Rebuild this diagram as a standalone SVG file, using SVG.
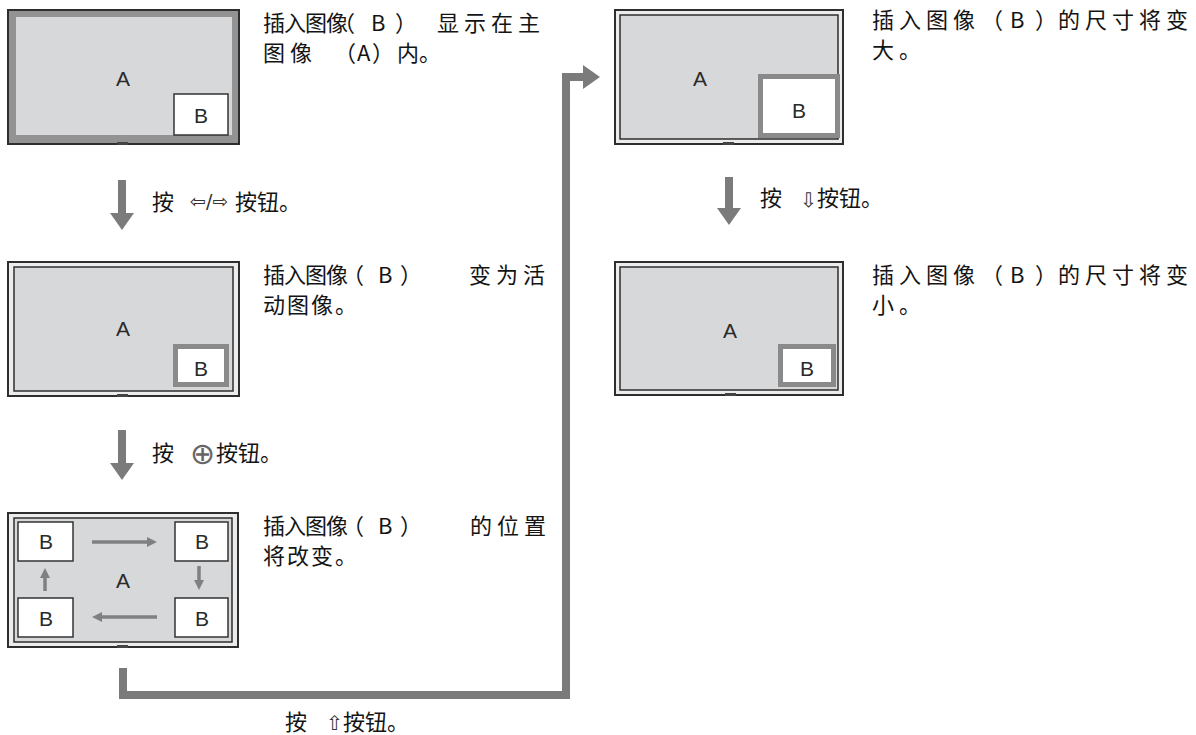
<svg xmlns="http://www.w3.org/2000/svg" width="1196" height="735" viewBox="0 0 1196 735">
<style>
.bezel{fill:#ececec;stroke:#2e2e2e;stroke-width:2}
.bezel-act{fill:#939393;stroke:#2e2e2e;stroke-width:2}
.screen{fill:#d6d8da;stroke:#2e2e2e;stroke-width:1.5}
.screen-act{fill:#d6d8da}
.stand{fill:#444}
.pip{fill:#fff;stroke:#333;stroke-width:1.5}
.pip-act{fill:#fff;stroke:#8a8a8a;stroke-width:5}
.lbl{font-family:"Liberation Sans",Arial,sans-serif;font-size:21px;fill:#2a2a2a;text-anchor:middle}
.cn{font-family:"Noto Sans CJK SC","Noto Sans CJK JP",sans-serif;font-size:22px;fill:#141414}
.sym{font-family:"DejaVu Sans",sans-serif;font-size:19px;fill:#333}
.sym2{font-family:"DejaVu Sans",sans-serif;font-size:20px;fill:#333}
.circ{font-family:"DejaVu Sans",sans-serif;font-size:30px;fill:#666}
.conn{fill:none;stroke:#7b7b7b;stroke-width:8;stroke-linejoin:miter}
.mini{fill:none;stroke:#808080;stroke-width:3.5}
</style>
<defs>
<marker id="ah" markerUnits="userSpaceOnUse" viewBox="0 0 17 24" markerWidth="17" markerHeight="24" refX="1" refY="12" orient="auto">
<path d="M0,0 L17,12 L0,24 z" fill="#7b7b7b"/>
</marker>
<marker id="ahs" markerUnits="userSpaceOnUse" viewBox="0 0 10 10" markerWidth="10" markerHeight="10" refX="6" refY="5" orient="auto">
<path d="M0,0 L10,5 L0,10 z" fill="#808080"/>
</marker>
</defs>
<rect width="1196" height="735" fill="#fff"/>

<g id="monitor1">
<rect class="bezel-act" x="8" y="10" width="231" height="134"/>
<rect class="screen-act" x="16" y="17" width="216" height="118"/>
<rect class="stand" x="117" y="142" width="11" height="3"/>
<rect class="pip" x="174" y="94" width="54" height="41"/>
<text class="lbl" x="123" y="86">A</text>
<text class="lbl" x="201" y="123">B</text>
</g>

<g id="monitor2">
<rect class="bezel" x="8" y="262" width="231" height="134"/>
<rect class="screen" x="14" y="267" width="219" height="124"/>
<rect class="stand" x="117" y="394" width="11" height="3"/>
<rect class="pip-act" x="175.5" y="346.5" width="51" height="38"/>
<text class="lbl" x="123" y="336">A</text>
<text class="lbl" x="201" y="376">B</text>
</g>

<g id="monitor3">
<rect class="bezel" x="8" y="513" width="230" height="134"/>
<rect class="screen" x="14" y="518" width="218" height="124"/>
<rect class="stand" x="117" y="645" width="11" height="3"/>
<rect class="pip" x="18" y="522" width="55" height="39"/>
<rect class="pip" x="175" y="522" width="53" height="39"/>
<rect class="pip" x="18" y="598" width="55" height="39"/>
<rect class="pip" x="175" y="598" width="53" height="39"/>
<line class="mini" x1="92" y1="542" x2="153" y2="542" marker-end="url(#ahs)"/>
<line class="mini" x1="199" y1="566" x2="199" y2="586" marker-end="url(#ahs)"/>
<line class="mini" x1="157" y1="617" x2="96" y2="617" marker-end="url(#ahs)"/>
<line class="mini" x1="45" y1="591" x2="45" y2="572" marker-end="url(#ahs)"/>
<text class="lbl" x="123" y="588">A</text>
<text class="lbl" x="46" y="549">B</text>
<text class="lbl" x="202" y="549">B</text>
<text class="lbl" x="46" y="626">B</text>
<text class="lbl" x="202" y="626">B</text>
</g>

<g id="monitor4">
<rect class="bezel" x="615" y="10" width="228" height="134"/>
<rect class="screen" x="620" y="15" width="218" height="124"/>
<rect class="stand" x="723" y="142" width="11" height="3"/>
<rect class="pip-act" x="760.5" y="76.5" width="77" height="59"/>
<text class="lbl" x="700" y="86">A</text>
<text class="lbl" x="799" y="118">B</text>
</g>

<g id="monitor5">
<rect class="bezel" x="615" y="262" width="228" height="133"/>
<rect class="screen" x="620" y="267" width="218" height="123"/>
<rect class="stand" x="725" y="393" width="11" height="3"/>
<rect class="pip-act" x="780.5" y="346.5" width="53" height="38"/>
<text class="lbl" x="730" y="338">A</text>
<text class="lbl" x="807" y="376">B</text>
</g>

<g id="desc1">
<text class="cn" x="263 284 305 326 333 371 395 437 464 491 518" y="31">插入图像（B）显示在主</text>
<text class="cn" x="263 290 334 357 372 397 419" y="61">图像（A）内。</text>
</g>
<g id="desc2">
<text class="cn" x="263 284 305 326 342 378 400 469 496 523" y="283">插入图像（B）变为活</text>
<text class="cn" x="263 287 311 335" y="313">动图像。</text>
</g>
<g id="desc3">
<text class="cn" x="263 284 305 326 342 378 400 470 497 524" y="534">插入图像（B）的位置</text>
<text class="cn" x="263 287 311 335" y="564">将改变。</text>
</g>
<g id="desc4">
<text class="cn" x="872 899 926 953 981 1010 1035 1058 1085 1112 1139 1166" y="28">插入图像（B）的尺寸将变</text>
<text class="cn" x="872 899" y="58">大。</text>
</g>
<g id="desc5">
<text class="cn" x="872 899 926 953 981 1010 1035 1058 1085 1112 1139 1166" y="283">插入图像（B）的尺寸将变</text>
<text class="cn" x="872 899" y="313">小。</text>
</g>

<g id="connectors">
<line class="conn" x1="122" y1="180" x2="122" y2="214" marker-end="url(#ah)"/>
<line class="conn" x1="122" y1="430" x2="122" y2="464" marker-end="url(#ah)"/>
<line class="conn" x1="729" y1="177" x2="729" y2="209" marker-end="url(#ah)"/>
<path class="conn" d="M123,668 V695 H566 V77 H584" marker-end="url(#ah)"/>
</g>

<g id="step-labels">
<text class="cn" y="210"><tspan x="152">按</tspan><tspan class="sym" x="190" y="208">⇦/⇨</tspan><tspan x="235" y="210">按钮。</tspan></text>
<text class="cn" y="461"><tspan x="152">按</tspan><tspan class="circ" x="190" y="464">⊕</tspan><tspan x="216" y="461">按钮。</tspan></text>
<text class="cn" y="206"><tspan x="760">按</tspan><tspan class="sym2" x="800" y="207">⇩</tspan><tspan x="817" y="206">按钮。</tspan></text>
<text class="cn" y="730"><tspan x="285">按</tspan><tspan class="sym2" x="326" y="730">⇧</tspan><tspan x="343" y="730">按钮。</tspan></text>
</g>
</svg>
